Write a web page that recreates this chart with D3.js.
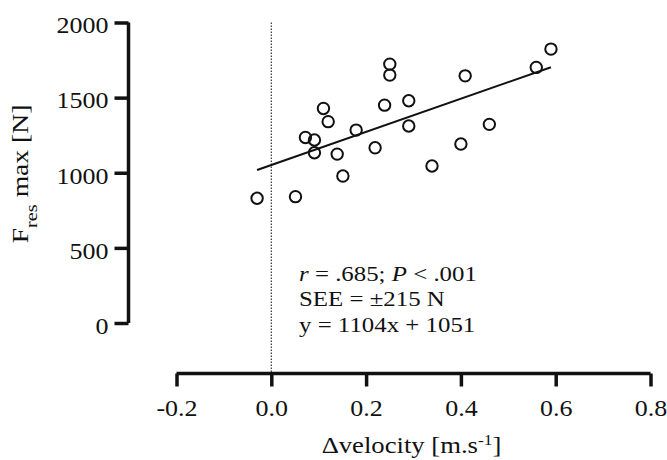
<!DOCTYPE html>
<html>
<head>
<meta charset="utf-8">
<script src="https://cdn.jsdelivr.net/npm/d3@7"></script>
<style>
  html, body { margin: 0; padding: 0; background: #fff; }
  svg { display: block; }
  text { font-family: "Liberation Serif", "Times New Roman", serif; fill: #111; }
</style>
</head>
<body>
<svg id="chart" width="667" height="460"></svg>
<script>
// Change in velocity (m/s) vs. peak resultant force (N)
const deltaVelocity = [-0.030, 0.051, 0.072, 0.091, 0.091, 0.110, 0.120, 0.139, 0.151, 0.179, 0.219,
                       0.239, 0.250, 0.250, 0.290, 0.290, 0.339, 0.400, 0.409, 0.460, 0.559, 0.590];
const fresMax = [830, 841, 1235, 1218, 1133, 1428, 1340, 1124, 978, 1284, 1166,
                 1450, 1723, 1650, 1479, 1311, 1045, 1191, 1645, 1322, 1701, 1823];

// Linear fit reported for the data
const slope = 1104;
const intercept = 1051;
const fitRange = [-0.03, 0.59];

const xTicks = [-0.2, 0.0, 0.2, 0.4, 0.6, 0.8];
const yTicks = [0, 500, 1000, 1500, 2000];
const statLines = ["r = .685; P < .001", "SEE = ±215 N", "y = 1104x + 1051"];

const svg = d3.select("#chart");

const x = d3.scaleLinear().domain([-0.2, 0.8]).range([176.5, 650.5]);
const y = d3.scaleLinear().domain([0, 2000]).range([323, 22.5]);

const axisX = 373.5;   // baseline of the offset x axis
const axisY = 128.5;   // position of the offset y axis
const wide = 1.13;     // horizontal widening of the serif lettering

// plain hyphen for negatives, one decimal place
const fmtX = d => (d < 0 ? "-" : "") + Math.abs(d).toFixed(1);

// y axis
const gy = svg.append("g")
  .attr("transform", `translate(${axisY},0)`)
  .call(d3.axisLeft(y).tickValues(yTicks).tickFormat(d3.format("d")).tickSize(14).tickPadding(6).tickSizeOuter(0));
gy.select(".domain").attr("stroke", "#111").attr("stroke-width", 3.5).attr("d", `M0,${y(0)}V${y(2000)}`);
gy.selectAll(".tick line").attr("stroke", "#111").attr("stroke-width", 3.5);
gy.selectAll(".tick text")
  .attr("x", 0)
  .attr("transform", `translate(-20,0) scale(${wide},1)`)
  .attr("font-size", 23).attr("font-family", "Liberation Serif").attr("fill", "#111").attr("dy", "0.45em");

// x axis
const gx = svg.append("g")
  .attr("transform", `translate(0,${axisX})`)
  .call(d3.axisBottom(x).tickValues(xTicks).tickFormat(fmtX).tickSize(13).tickPadding(13).tickSizeOuter(0));
gx.select(".domain").attr("stroke", "#111").attr("stroke-width", 3.5).attr("d", `M${x(-0.2)},0H${x(0.8)}`);
gx.selectAll(".tick line").attr("stroke", "#111").attr("stroke-width", 3.5);
gx.selectAll(".tick text")
  .attr("transform", `scale(${wide},1)`)
  .attr("font-size", 23).attr("font-family", "Liberation Serif").attr("fill", "#111");

// zero reference line
svg.append("line")
  .attr("x1", x(0)).attr("x2", x(0))
  .attr("y1", y(2000)).attr("y2", axisX)
  .attr("stroke", "#333").attr("stroke-width", 1.2).attr("stroke-dasharray", "1.5,1.5");

// regression line
svg.append("line")
  .attr("x1", x(fitRange[0])).attr("y1", y(slope * fitRange[0] + intercept))
  .attr("x2", x(fitRange[1])).attr("y2", y(slope * fitRange[1] + intercept))
  .attr("stroke", "#111").attr("stroke-width", 2);

// data points
svg.append("g").selectAll("circle")
  .data(d3.range(deltaVelocity.length))
  .join("circle")
  .attr("cx", i => x(deltaVelocity[i]))
  .attr("cy", i => y(fresMax[i]))
  .attr("r", 5.7)
  .attr("fill", "none")
  .attr("stroke", "#111")
  .attr("stroke-width", 2);

// statistics block
const stats = svg.append("text")
  .attr("transform", `translate(299,281) scale(${wide},1)`)
  .attr("font-size", 22);
const l1 = stats.append("tspan").attr("x", 0).attr("y", 0);
l1.append("tspan").attr("font-style", "italic").text("r");
l1.append("tspan").text(" = .685; ");
l1.append("tspan").attr("font-style", "italic").text("P");
l1.append("tspan").text(" < .001");
stats.append("tspan").attr("x", 0).attr("dy", 25.5).text(statLines[1]);
stats.append("tspan").attr("x", 0).attr("dy", 25.5).text(statLines[2]);

// x axis title
const xt = svg.append("text")
  .attr("transform", `translate(411.5,453) scale(1.16,1)`)
  .attr("text-anchor", "middle").attr("font-size", 23);
xt.append("tspan").text("Δvelocity [m.s");
xt.append("tspan").attr("baseline-shift", "super").attr("font-size", 15).text("-1");
xt.append("tspan").text("]");

// y axis title
const yt = svg.append("text")
  .attr("transform", "translate(27.5,174) rotate(-90) scale(1.2,1)")
  .attr("text-anchor", "middle").attr("font-size", 23);
yt.append("tspan").text("F");
yt.append("tspan").attr("baseline-shift", "sub").attr("font-size", 17).text("res");
yt.append("tspan").text(" max [N]");
</script>
</body>
</html>
